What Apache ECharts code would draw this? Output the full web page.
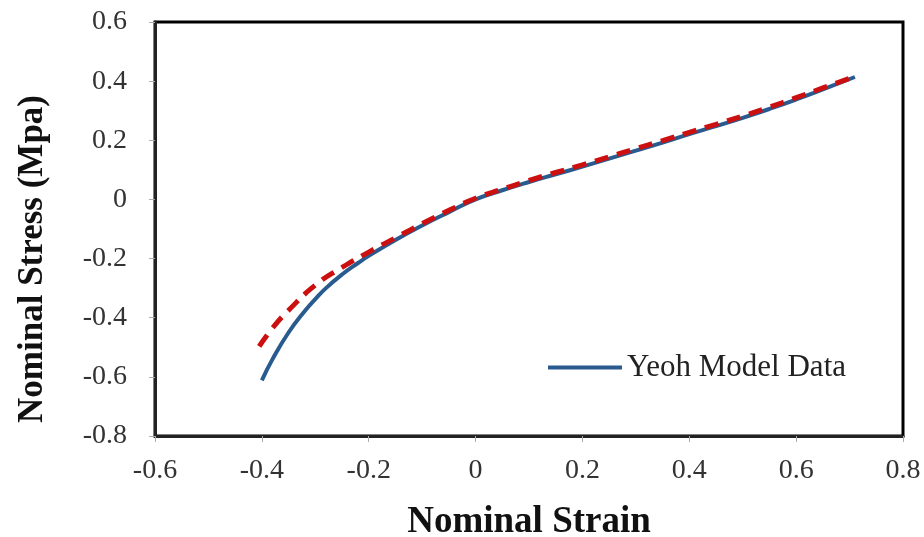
<!DOCTYPE html>
<html>
<head>
<meta charset="utf-8">
<script src="https://cdn.jsdelivr.net/npm/echarts@6/dist/echarts.min.js"></script>
<style>html,body{margin:0;padding:0;background:#fff}#c{width:924px;height:537px}</style>
</head>
<body>
<div id="c"></div>
<script>
// Yeoh model (blue solid)
const yeohStrain = [-0.40, -0.38, -0.35, -0.32, -0.30, -0.28, -0.25, -0.22, -0.20, -0.15, -0.10, -0.05, 0, 0.05, 0.10, 0.15, 0.20, 0.25, 0.30, 0.35, 0.40, 0.45, 0.50, 0.55, 0.60, 0.65, 0.71];
const yeohStress = [-0.612, -0.540, -0.450, -0.378, -0.337, -0.300, -0.254, -0.215, -0.191, -0.137, -0.088, -0.043, 0.000, 0.031, 0.059, 0.085, 0.111, 0.138, 0.165, 0.192, 0.221, 0.248, 0.276, 0.306, 0.338, 0.372, 0.414];
// Second curve (red dashed)
const expStrain = [-0.405, -0.38, -0.35, -0.30, -0.25, -0.20, -0.15, -0.10, -0.05, 0, 0.05, 0.10, 0.15, 0.20, 0.25, 0.30, 0.35, 0.40, 0.45, 0.50, 0.55, 0.60, 0.65, 0.71];
const expStress = [-0.497, -0.435, -0.375, -0.290, -0.230, -0.178, -0.130, -0.082, -0.037, 0.004, 0.035, 0.064, 0.091, 0.117, 0.144, 0.172, 0.199, 0.227, 0.254, 0.282, 0.312, 0.344, 0.377, 0.416];

const xTitle = 'Nominal Strain';
const yTitle = 'Nominal Stress (Mpa)';
const seriesName = 'Yeoh Model Data';

const serif = '"Liberation Serif", "Times New Roman", serif';
const zip = (a, b) => a.map((v, i) => [v, b[i]]);

const chart = echarts.init(document.getElementById('c'), null, {renderer: 'canvas'});
chart.setOption({
  animation: false,
  backgroundColor: '#fff',
  grid: {left: 155, right: 21, top: 22, bottom: 101, containLabel: false, outerBoundsMode: 'none',
         show: true, borderColor: '#000', borderWidth: 3, backgroundColor: 'transparent'},
  legend: {
    data: [{name: seriesName, icon: 'rect'}],
    left: 543, top: 347,
    itemWidth: 74, itemHeight: 4, itemGap: 10,
    textStyle: {fontFamily: serif, fontSize: 31, color: '#222', padding: [0, 0, 0, 0]}
  },
  xAxis: {
    type: 'value', min: -0.6, max: 0.8, interval: 0.2,
    name: xTitle, nameLocation: 'middle', nameGap: 68,
    nameTextStyle: {fontFamily: serif, fontSize: 37, fontWeight: 'bold', color: '#111'},
    axisLine: {show: true, onZero: false, lineStyle: {color: '#222', width: 3}},
    axisTick: {show: true, inside: false, length: 6, lineStyle: {color: '#aaa', width: 1}},
    axisLabel: {fontFamily: serif, fontSize: 28, color: '#333', margin: 21},
    splitLine: {show: false}
  },
  yAxis: {
    type: 'value', min: -0.8, max: 0.6, interval: 0.2,
    axisLine: {show: true, onZero: false, lineStyle: {color: '#222', width: 3}},
    axisTick: {show: true, inside: false, length: 6, lineStyle: {color: '#aaa', width: 1}},
    axisLabel: {fontFamily: serif, fontSize: 28, color: '#333', margin: 28},
    splitLine: {show: false}
  },
  graphic: [{
    type: 'text', left: 15, top: 95, rotation: Math.PI / 2,
    style: {text: yTitle, fontFamily: serif, fontSize: 35, fontWeight: 'bold', fill: '#111'}
  }],
  series: [
    {
      name: 'Experimental', type: 'line', data: zip(expStrain, expStress),
      showSymbol: false, smooth: true, z: 3,
      lineStyle: {color: '#cc1010', width: 5, type: [14, 9]},
      itemStyle: {color: '#cc1010'}
    },
    {
      name: seriesName, type: 'line', data: zip(yeohStrain, yeohStress),
      showSymbol: false, smooth: true, z: 2,
      lineStyle: {color: '#2a5b8f', width: 4},
      itemStyle: {color: '#2a5b8f'}
    }
  ]
});
</script>
</body>
</html>
